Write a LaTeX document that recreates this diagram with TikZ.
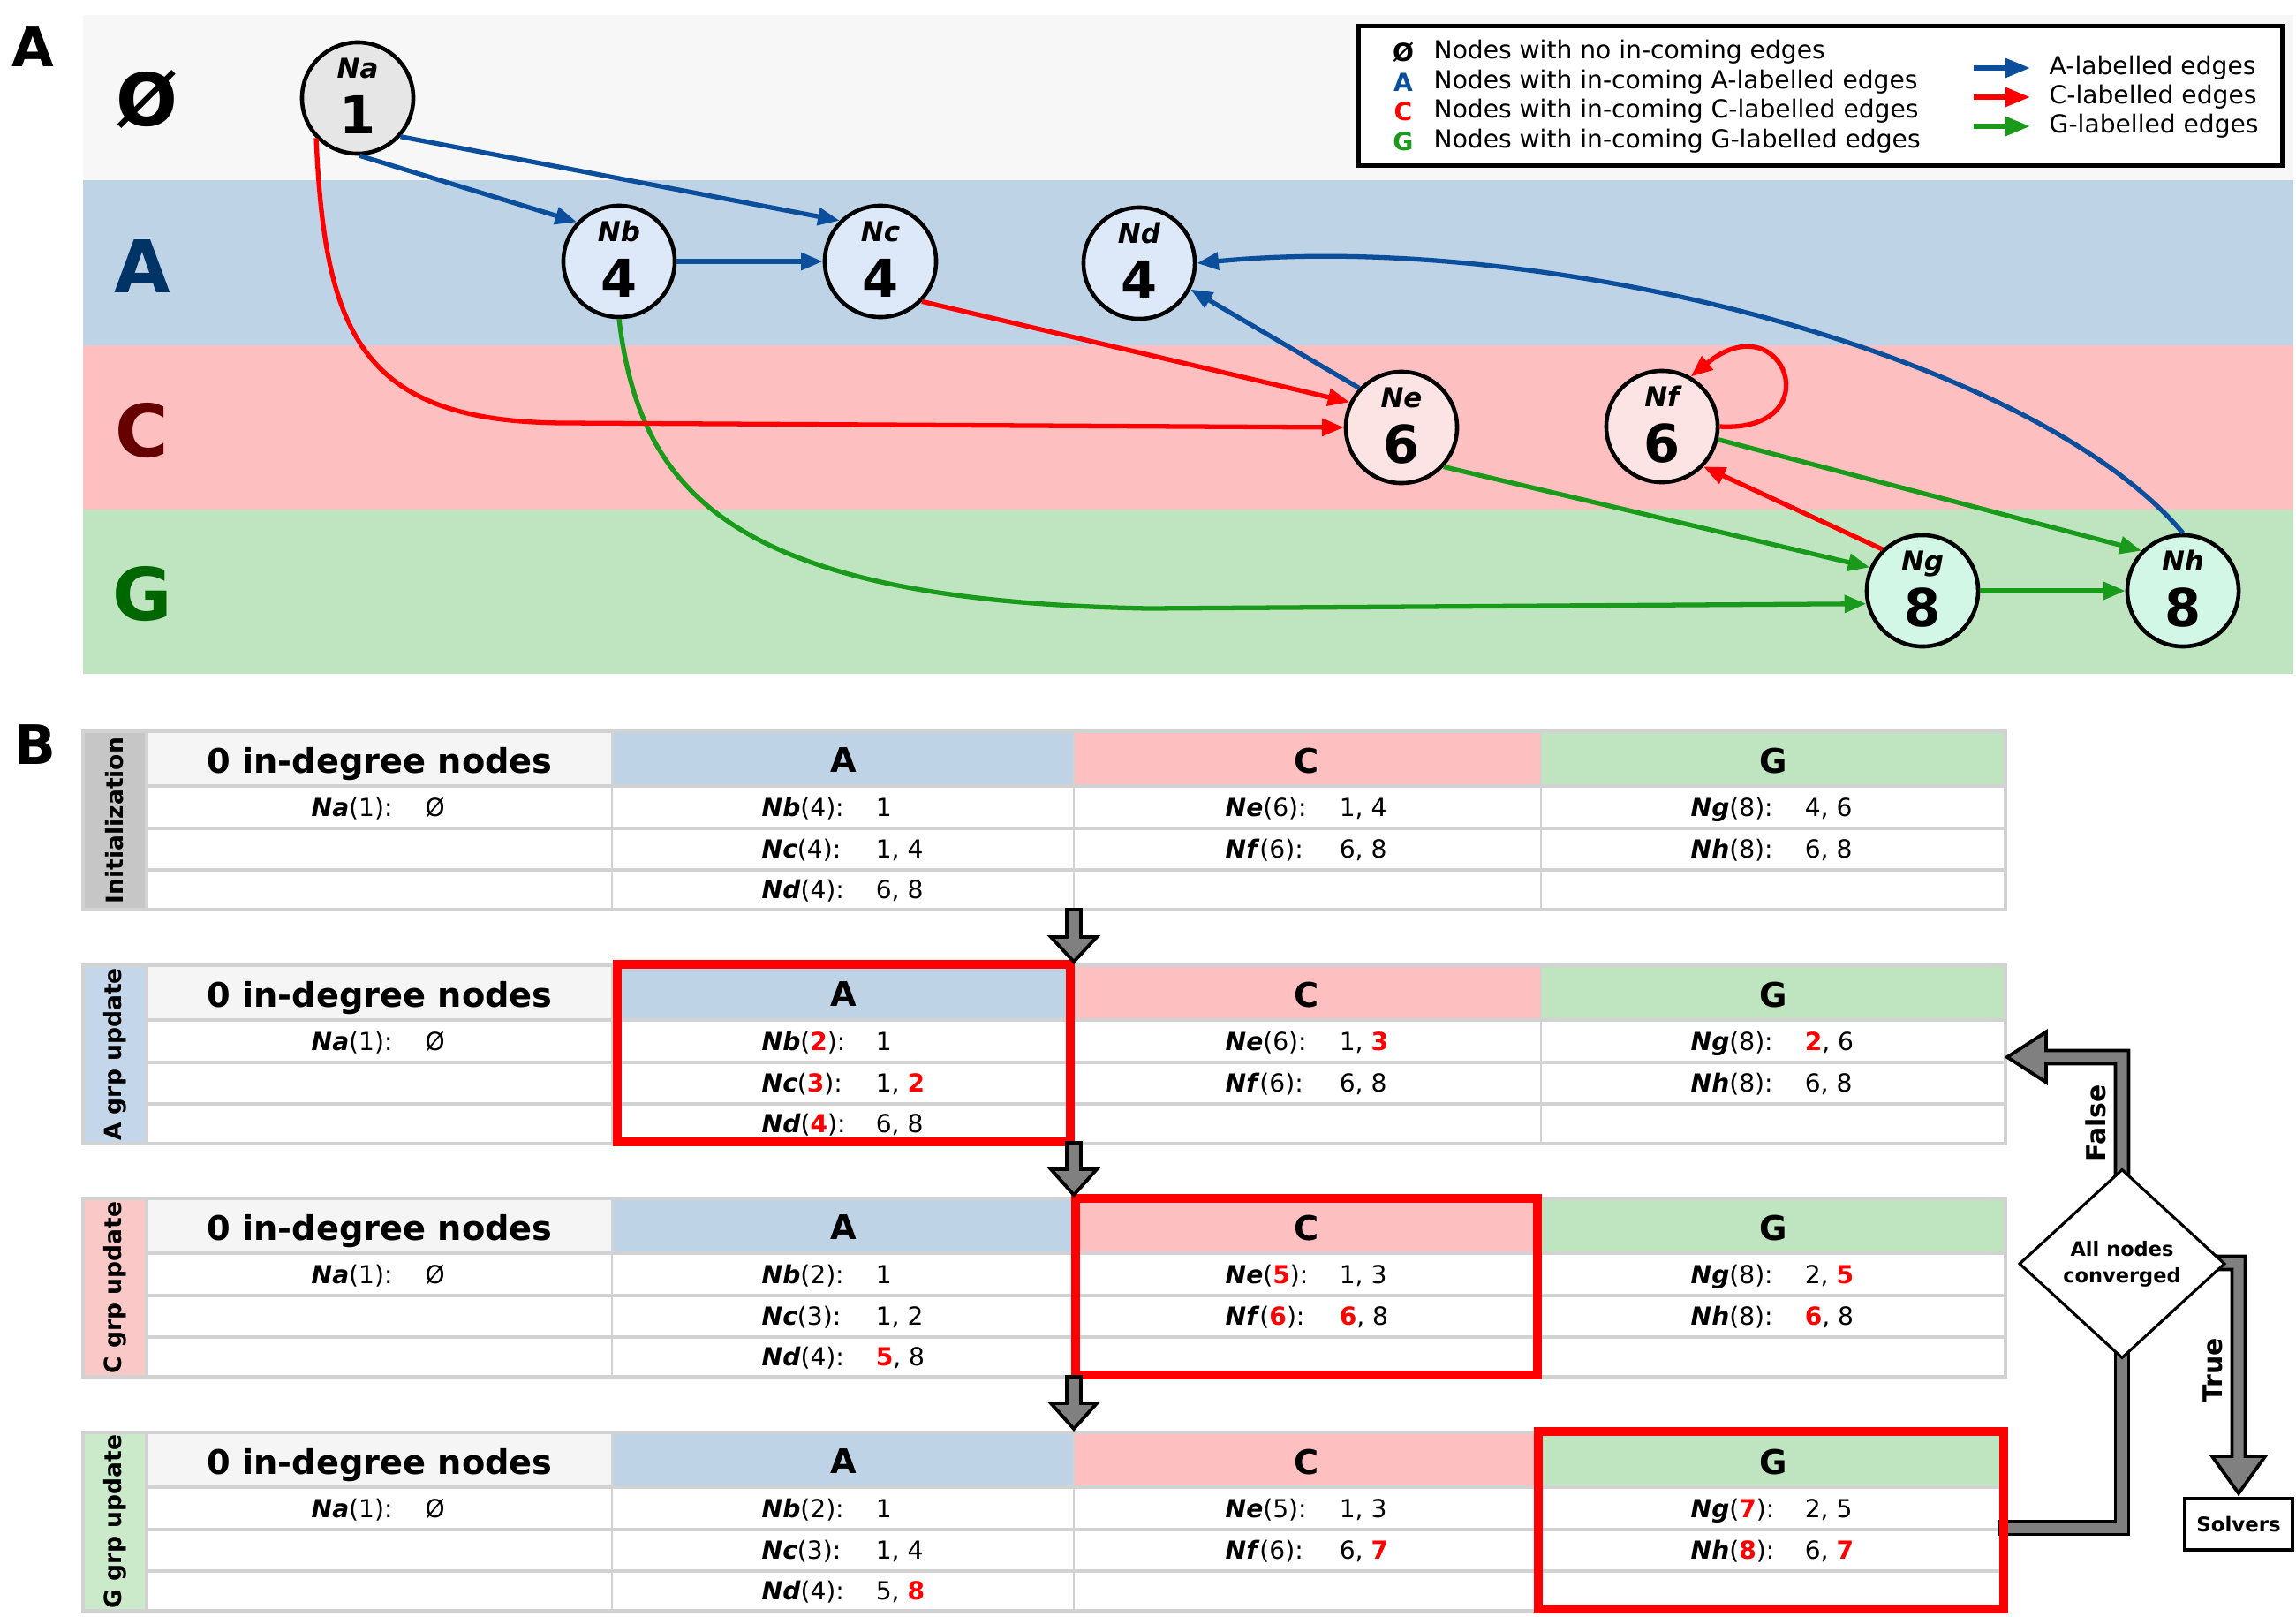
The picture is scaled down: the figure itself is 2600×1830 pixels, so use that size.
\documentclass[tikz,border=0pt]{standalone}
\usepackage{fontspec}
\setmainfont{DejaVu Sans}
\usetikzlibrary{arrows.meta,shapes.geometric}
\definecolor{bandO}{HTML}{F7F7F7}
\definecolor{bandA}{HTML}{BFD3E6}
\definecolor{bandC}{HTML}{FDBFBF}
\definecolor{bandG}{HTML}{BFE5C0}
\definecolor{eA}{HTML}{0B4F9C}
\definecolor{eC}{HTML}{FF0000}
\definecolor{eG}{HTML}{1A9A1A}
\definecolor{lblA}{HTML}{003366}
\definecolor{lblC}{HTML}{660000}
\definecolor{lblG}{HTML}{006600}
\definecolor{nO}{HTML}{E6E6E6}
\definecolor{nA}{HTML}{DDE9F9}
\definecolor{nC}{HTML}{FCE4E4}
\definecolor{nG}{HTML}{D2F7E6}
\definecolor{gridc}{HTML}{D2D2D2}
\definecolor{hdrO}{HTML}{F5F5F5}
\definecolor{sideI}{HTML}{C6C6C6}
\definecolor{sideA}{HTML}{C4D7EA}
\definecolor{sideC}{HTML}{FBC8C8}
\definecolor{sideG}{HTML}{CAEACA}
\definecolor{blk}{HTML}{808080}
\newcommand{\setfs}[1]{\fontsize{#1}{#1}\selectfont}
\newcommand{\nm}[1]{\textbf{\textit{#1}}}
\newcommand{\rd}[1]{\textcolor{red}{\textbf{#1}}}
\tikzset{
  gnode/.style={circle, draw=black, line width=1.3pt, minimum size=1.26cm, inner sep=0pt},
  nlab/.style={font=\setfs{8.8pt}\bfseries\itshape, inner sep=0pt, text depth=0pt},
  nnum/.style={font=\setfs{16.8pt}\bfseries, inner sep=0pt},
  edge/.style={line width=1.5pt, -{Triangle[length=7pt,width=5.5pt]}},
  bandlbl/.style={font=\setfs{23.4pt}\bfseries},
  legtxt/.style={font=\setfs{8pt}, anchor=west, inner sep=0pt},
  legsym/.style={font=\setfs{8pt}\bfseries, inner sep=0pt},
  legarr/.style={line width=1.6pt, -{Triangle[length=8pt,width=6pt]}},
  cellt/.style={font=\setfs{8pt}, anchor=base west, inner sep=0pt},
  hdr/.style={font=\setfs{10.9pt}\bfseries, text depth=0pt, inner sep=0pt},
  side/.style={font=\setfs{7.55pt}\bfseries, rotate=90},
  redbox/.style={draw=red, line width=3.1pt},
  blockarr/.style={fill=blk, draw=black, line width=1.1pt, line join=miter},
  panel/.style={font=\setfs{17.5pt}\bfseries}
}
\newcommand{\gn}[5]{%
  \node[gnode, fill=#4] (#1) at (#2,#3) {};
  \node[nlab] (#1-l) at (#2,#3-34) {#1};
  \node[nnum] (#1-n) at (#2,#3+19) {#5};
}
\newcommand{\cel}[5]{\node[cellt] (#1) at (#2,#3) {\makebox[1.29cm][l]{#4}#5};}
\newcommand{\tframe}[4]{%
  \fill[#2] (94,#1) rectangle (166,#1+202);
  \fill[hdrO] (166,#1) rectangle (693,#1+62);
  \fill[bandA] (693,#1) rectangle (1216,#1+62);
  \fill[bandC] (1216,#1) rectangle (1745,#1+62);
  \fill[bandG] (1745,#1) rectangle (2271,#1+62);
  \fill[white] (166,#1+62) rectangle (2271,#1+202);
  \foreach \yy in {62,110,157} {\draw[gridc, line width=1.1pt] (166,#1+\yy) -- (2271,#1+\yy);}
  \foreach \xx in {693,1216,1745} {\draw[gridc, line width=0.6pt] (\xx,#1) -- (\xx,#1+202);}
  \draw[gridc, line width=1.1pt] (94,#1) rectangle (2271,#1+202);
  \draw[gridc, line width=1.1pt] (166,#1) -- (166,#1+202);
  \node[side] (#4-side) at (130,#1+101) {#3};
  \node[hdr] (#4-h0) at (430,#1+33) {0 in-degree nodes};
  \node[hdr] (#4-hA) at (955,#1+33) {A};
  \node[hdr] (#4-hC) at (1480,#1+33) {C};
  \node[hdr] (#4-hG) at (2008,#1+33) {G};
  \cel{#4-na}{352}{#1+96}{\nm{Na}(1):}{Ø}
}
\newcommand{\downarr}[3]{%
  \draw[blockarr] (1208,#1) -- (1208,#2) -- (1190,#2) -- (1216,#3) -- (1242,#2) -- (1224,#2) -- (1224,#1) -- cycle;
}
\begin{document}
\begin{tikzpicture}[x=0.01cm, y=-0.01cm]
\useasboundingbox (0,0) rectangle (2600,1830);
\fill[white] (0,0) rectangle (2600,1830);

% ---------------- Panel A ----------------
\node[panel] (pA) at (37,53) {A};
\fill[bandO] (94,17) rectangle (2597,204);
\fill[bandA] (94,204) rectangle (2597,391);
\fill[bandC] (94,391) rectangle (2597,577);
\fill[bandG] (94,577) rectangle (2597,763);
\node[bandlbl, text=black] (lblO) at (166,113) {Ø};
\node[bandlbl, text=lblA] (lblA) at (161,302) {A};
\node[bandlbl, text=lblC] (lblC) at (161,488) {C};
\node[bandlbl, text=lblG] (lblG) at (161,673) {G};

% legend
\node[draw=black, line width=1.4pt, fill=white, minimum width=10.45cm, minimum height=1.57cm, inner sep=0pt] (leg) at (2061.5,108.5) {};
\node[legsym, text=black] (ls0) at (1589,59) {Ø};
\node[legsym, text=eA] (ls1) at (1589,93) {A};
\node[legsym, text=eC] (ls2) at (1589,126) {C};
\node[legsym, text=eG] (ls3) at (1589,160) {G};
\node[legtxt] (lt0) at (1623,59) {Nodes with no in-coming edges};
\node[legtxt] (lt1) at (1623,93) {Nodes with in-coming A-labelled edges};
\node[legtxt] (lt2) at (1623,126) {Nodes with in-coming C-labelled edges};
\node[legtxt] (lt3) at (1623,160) {Nodes with in-coming G-labelled edges};
\coordinate (la1) at (2235,77); \coordinate (lb1) at (2299,77);
\coordinate (la2) at (2235,110); \coordinate (lb2) at (2299,110);
\coordinate (la3) at (2235,143); \coordinate (lb3) at (2299,143);
\draw[legarr, eA] (la1) -- (lb1);
\draw[legarr, eC] (la2) -- (lb2);
\draw[legarr, eG] (la3) -- (lb3);
\node[legtxt] (le1) at (2320,77) {A-labelled edges};
\node[legtxt] (le2) at (2320,110) {C-labelled edges};
\node[legtxt] (le3) at (2320,143) {G-labelled edges};

% graph nodes
\gn{Na}{405}{111}{nO}{1}
\gn{Nb}{701}{296}{nA}{4}
\gn{Nc}{997}{296}{nA}{4}
\gn{Nd}{1290}{298}{nA}{4}
\gn{Ne}{1587}{484}{nC}{6}
\gn{Nf}{1882}{483}{nC}{6}
\gn{Ng}{2177}{669}{nG}{8}
\gn{Nh}{2472}{669}{nG}{8}

% edges
\draw[edge, eG] (Nb.south) .. controls (725,560) and (830,680) .. (1300,689) -- (Ng.-167);
\draw[edge, eG] (Ne.-43) -- (Ng.156);
\draw[edge, eG] (Nf.-13) -- (Nh.136);
\draw[edge, eG] (Ng.east) -- (Nh.west);
\draw[edge, eC] (Na.-136) .. controls (368,380) and (410,478) .. (640,479) -- (Ne.west);
\draw[edge, eC] (Nc.-44) -- (Ne.154);
\draw[edge, eC] (Nf.east) .. controls (2075,490) and (2020,340) .. (Nf.60);
\draw[edge, eC] (Ng.134) -- (Nf.-44);
\draw[edge, eA] (Na.-88) -- (Nb.137);
\draw[edge, eA] (Na.-42) -- (Nc.135);
\draw[edge, eA] (Nb.east) -- (Nc.west);
\draw[edge, eA] (Ne.137) -- (Nd.-27);
\draw[edge, eA] (Nh.north) .. controls (2300,400) and (1750,260) .. (Nd.east);

% ---------------- Panel B ----------------
\node[panel] (pB) at (40,843) {B};

% Table 1
\tframe{828}{sideI}{Initialization}{t1}
\cel{t1b}{862}{828+96}{\nm{Nb}(4):}{1}
\cel{t1c}{862}{828+143.5}{\nm{Nc}(4):}{1, 4}
\cel{t1d}{862}{828+189.5}{\nm{Nd}(4):}{6, 8}
\cel{t1e}{1387}{828+96}{\nm{Ne}(6):}{1, 4}
\cel{t1f}{1387}{828+143.5}{\nm{Nf}(6):}{6, 8}
\cel{t1g}{1914}{828+96}{\nm{Ng}(8):}{4, 6}
\cel{t1h}{1914}{828+143.5}{\nm{Nh}(8):}{6, 8}

% Table 2
\tframe{1093}{sideA}{A grp update}{t2}
\cel{t2b}{862}{1093+96}{\nm{Nb}(\rd{2}):}{1}
\cel{t2c}{862}{1093+143.5}{\nm{Nc}(\rd{3}):}{1, \rd{2}}
\cel{t2d}{862}{1093+189.5}{\nm{Nd}(\rd{4}):}{6, 8}
\cel{t2e}{1387}{1093+96}{\nm{Ne}(6):}{1, \rd{3}}
\cel{t2f}{1387}{1093+143.5}{\nm{Nf}(6):}{6, 8}
\cel{t2g}{1914}{1093+96}{\nm{Ng}(8):}{\rd{2}, 6}
\cel{t2h}{1914}{1093+143.5}{\nm{Nh}(8):}{6, 8}

% Table 3
\tframe{1357}{sideC}{C grp update}{t3}
\cel{t3b}{862}{1357+96}{\nm{Nb}(2):}{1}
\cel{t3c}{862}{1357+143.5}{\nm{Nc}(3):}{1, 2}
\cel{t3d}{862}{1357+189.5}{\nm{Nd}(4):}{\rd{5}, 8}
\cel{t3e}{1387}{1357+96}{\nm{Ne}(\rd{5}):}{1, 3}
\cel{t3f}{1387}{1357+143.5}{\nm{Nf}(\rd{6}):}{\rd{6}, 8}
\cel{t3g}{1914}{1357+96}{\nm{Ng}(8):}{2, \rd{5}}
\cel{t3h}{1914}{1357+143.5}{\nm{Nh}(8):}{\rd{6}, 8}

% Table 4
\tframe{1622}{sideG}{G grp update}{t4}
\cel{t4b}{862}{1622+96}{\nm{Nb}(2):}{1}
\cel{t4c}{862}{1622+143.5}{\nm{Nc}(3):}{1, 4}
\cel{t4d}{862}{1622+189.5}{\nm{Nd}(4):}{5, \rd{8}}
\cel{t4e}{1387}{1622+96}{\nm{Ne}(5):}{1, 3}
\cel{t4f}{1387}{1622+143.5}{\nm{Nf}(6):}{6, \rd{7}}
\cel{t4g}{1914}{1622+96}{\nm{Ng}(\rd{7}):}{2, 5}
\cel{t4h}{1914}{1622+143.5}{\nm{Nh}(\rd{8}):}{6, \rd{7}}

% loop-back and decision arrows
\draw[blockarr] (2265,1722.5) -- (2395.5,1722.5) -- (2395.5,1520) -- (2410.5,1520) -- (2410.5,1737.5) -- (2265,1737.5) -- cycle;
\draw[blockarr] (2395.5,1340) -- (2395.5,1204.5) -- (2317,1204.5) -- (2317,1225.5) -- (2273,1197) -- (2317,1168.5) -- (2317,1189.5) -- (2410.5,1189.5) -- (2410.5,1340) -- cycle;
\draw[blockarr] (2505,1422.5) -- (2542.5,1422.5) -- (2542.5,1649) -- (2565,1649) -- (2535,1691) -- (2505,1649) -- (2527.5,1649) -- (2527.5,1437.5) -- (2505,1437.5) -- cycle;

% red highlight boxes
\draw[redbox] (699,1092) rectangle (1212,1293);
\draw[redbox] (1218,1357) rectangle (1741,1557);
\draw[redbox] (1742,1621) rectangle (2269,1822);

% down arrows between tables
\downarr{1030}{1061}{1089}
\downarr{1294}{1324}{1353}
\downarr{1559}{1589}{1618}

% decision
\node[diamond, draw=black, fill=white, line width=0.9pt, minimum width=2.33cm, minimum height=2.14cm, inner sep=0pt, align=center, font=\fontsize{6.4pt}{8.6pt}\selectfont\bfseries] (conv) at (2403,1431) {All nodes\\converged};
\node[draw=black, line width=1.1pt, fill=white, minimum width=1.22cm, minimum height=0.58cm, inner sep=0pt, font=\setfs{6.5pt}\bfseries] (solv) at (2535,1726) {Solvers};
\node[font=\setfs{8.5pt}\bfseries, rotate=90] (flab) at (2373,1272) {False};
\node[font=\setfs{8.5pt}\bfseries, rotate=90] (tlab) at (2506,1552) {True};
\end{tikzpicture}
\end{document}
